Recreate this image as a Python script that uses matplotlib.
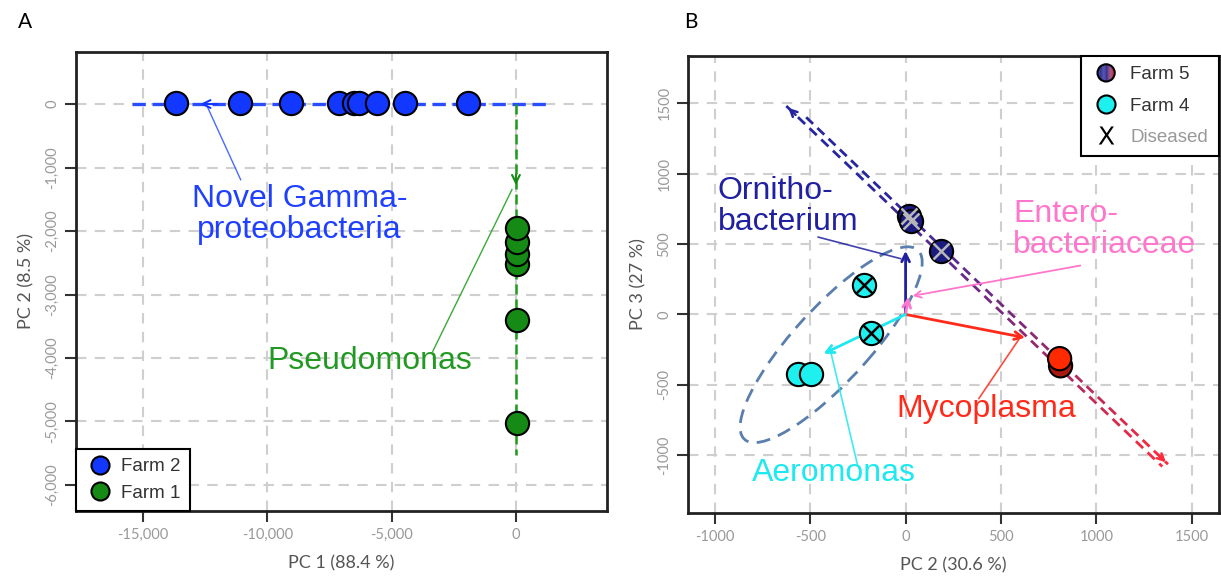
import numpy as np
import matplotlib
matplotlib.use("Agg")
import matplotlib.pyplot as plt
from matplotlib.collections import LineCollection
from matplotlib.colors import LinearSegmentedColormap
from matplotlib.legend_handler import HandlerBase
from matplotlib.lines import Line2D
from matplotlib.patches import Ellipse, Polygon, Circle
from matplotlib.ticker import FuncFormatter

# ---- panel A data (PC1 vs PC2) ----
farm2_pc1 = [-13650, -11080, -9030, -7120, -6500, -6300, -5600, -4460, -1910]
farm2_pc2 = [20, 20, 20, 20, 20, 20, 20, 20, 20]
farm1_pc1 = [30, 30, 30, 30, 30, 30]
farm1_pc2 = [-2520, -2360, -2180, -1950, -3400, -5020]
gamma_axis = [-15420, 1365]          # blue dashed group axis along PC1
gamma_tip = [-12800, 0]              # loading arrow tip
pseudo_axis = [0, -5530]             # green dashed group axis along PC2
pseudo_tip = [0, -1320]

# ---- panel B data (PC2 vs PC3) ----
farm5_blue_x = [20, 28, 186]
farm5_blue_y = [700, 665, 453]
farm5_red_x = [812, 807]
farm5_red_y = [-365, -314]
farm4_x = [-566, -498, -219, -182]
farm4_y = [-426, -426, 207, -131]
diseased_blue = [0, 1, 2]            # index into farm5_blue
diseased_cyan = [2, 3]               # index into farm4
trend1 = [(-625, 1480), (1345, -1080)]
trend2 = [(-521, 1400), (1375, -1064)]
ell_center = (-390, -215)
ell_size = (1628, 440)
ell_angle = 57.3

loadings = {
    "Ornitho-\nbacterium": dict(tip=(0, 451), text=(-984, 764), line=[(-458, 549), (-26, 396)],
                               color="#2020a0", ha="left", head=False),
    "Entero-\nbacteriaceae": dict(tip=(15, 125), text=(563, 604), line=[(916, 347), (37, 132)],
                                  color="#ff77cc", ha="left", head=True),
    "Mycoplasma": dict(tip=(626, -165), text=(421, -674), line=[(384, -597), (595, -174)],
                       color="#ff2a1a", ha="center", head=False),
    "Aeromonas": dict(tip=(-430, -279), text=(-374, -1125), line=[(-253, -1063), (-395, -250)],
                      color="#1ee8f0", ha="center", head=False),
}

LAB_FONT = "Lato"
TXT_FONT = "Liberation Sans"
GRID = dict(color="#cfcfcf", ls=(0, (5, 4)), lw=1.5)


class GradientCircle(HandlerBase):
    def create_artists(self, legend, orig_handle, xdescent, ydescent, width, height, fontsize, trans):
        cx, cy = width / 2 - xdescent, height / 2 - ydescent
        r = 6.2
        cmap = LinearSegmentedColormap.from_list("g", ["#1a1a8c", "#1a1a8c", "#e02030"])
        edges = np.linspace(-r, r, 21)
        arts = []
        for i in range(20):
            xs = np.linspace(edges[i], edges[i + 1], 6)
            top = np.sqrt(np.clip(r ** 2 - xs ** 2, 0, None))
            pts = np.r_[np.c_[xs, top], np.c_[xs[::-1], -top[::-1]]] + [cx, cy]
            arts.append(Polygon(pts, closed=True, fc=cmap(i / 19), ec="none", transform=trans))
        arts.append(Circle((cx, cy), r, fill=False, ec="black", lw=1.5, transform=trans))
        return arts


def gradient_dashes(ax, start, end, cmap, dash=0.019, gap=0.012, lw=2.0):
    start, end = np.array(start, float), np.array(end, float)
    segs, cols = [], []
    for t in np.arange(0, 1, dash + gap):
        t1 = min(t + dash, 1.0)
        segs.append([start + (end - start) * t, start + (end - start) * t1])
        cols.append(cmap((t + t1) / 2))
    ax.add_collection(LineCollection(segs, colors=cols, linewidths=lw, zorder=2))


def style_axes(ax):
    ax.grid(True, **GRID)
    ax.set_axisbelow(True)
    for s in ax.spines.values():
        s.set_linewidth(2)
        s.set_color("#222222")
    ax.tick_params(length=8, width=1.5, color="#333333", labelsize=10.5,
                   labelcolor="#999999", pad=4)
    ax.tick_params(axis="y", labelrotation=90)
    for lab in ax.get_yticklabels() + ax.get_xticklabels():
        lab.set_fontfamily(LAB_FONT)
    for lab in ax.get_yticklabels():
        lab.set_va("center")


fig = plt.figure(figsize=(12.21, 5.84), dpi=100)
axA = fig.add_axes([0.0622, 0.125, 0.4348, 0.786])
axB = fig.add_axes([0.5635, 0.1216, 0.4345, 0.7825])

# ---------- panel A ----------
axA.set_xlim(-17690, 3655)
axA.set_ylim(-6410, 820)
axA.set_xticks([-15000, -10000, -5000, 0])
axA.set_yticks([0, -1000, -2000, -3000, -4000, -5000, -6000])
comma = FuncFormatter(lambda v, p: f"{int(v):,}")
axA.xaxis.set_major_formatter(comma)
axA.yaxis.set_major_formatter(comma)
style_axes(axA)

blue, green = "#1238ff", "#158a15"
axA.plot(gamma_axis, [0, 0], color="#2a4dff", lw=2.4, ls=(0, (4, 2)), zorder=2)
axA.plot([0, 0], pseudo_axis, color="#1c9a1c", lw=1.8, ls=(0, (4, 2)), zorder=2)
axA.annotate("", xy=gamma_tip, xytext=(gamma_tip[0] + 900, 0),
             arrowprops=dict(arrowstyle="->", color=blue, lw=1.5, mutation_scale=14), zorder=3)
axA.annotate("", xy=pseudo_tip, xytext=(0, pseudo_tip[1] + 250),
             arrowprops=dict(arrowstyle="->", color=green, lw=1.5, mutation_scale=14), zorder=3)
axA.scatter(farm2_pc1, farm2_pc2, s=280, c=blue, ec="black", lw=1.5, zorder=4)
axA.scatter(farm1_pc1, farm1_pc2, s=280, c=green, ec="black", lw=1.5, zorder=4)

axA.plot([-12410, -11067], [-40, -1192], color="#4a6aff", lw=1)
axA.text(-8710, -1746, "Novel Gamma-\nproteobacteria", color="#2040ff", fontsize=23,
         family=TXT_FONT, ha="center", va="center", multialignment="center", linespacing=1.05)
axA.plot([-159, -3344], [-1347, -3895], color="#3aaa3a", lw=1)
axA.text(-5892, -4053, "Pseudomonas", color="#229922", fontsize=23, family=TXT_FONT,
         ha="center", va="center")

legA = axA.legend(handles=[
    Line2D([], [], ls="", marker="o", ms=13, mfc=blue, mec="black", mew=1.5, label="Farm 2"),
    Line2D([], [], ls="", marker="o", ms=13, mfc=green, mec="black", mew=1.5, label="Farm 1")],
    loc="lower left", borderaxespad=0, fancybox=False, framealpha=1,
    prop=dict(family=TXT_FONT, size=13.5), handletextpad=0.3, borderpad=0.5, labelspacing=0.5,
    handlelength=1.6)
legA.get_frame().set_edgecolor("black")
legA.get_frame().set_linewidth(1.5)
for t in legA.get_texts():
    t.set_color("#333333")

axA.set_xlabel("PC 1 (88.4 %)", family=LAB_FONT, fontsize=13, color="#555555", labelpad=10)
axA.set_ylabel("PC 2 (8.5 %)", family=LAB_FONT, fontsize=13, color="#555555", labelpad=8)

# ---------- panel B ----------
axB.set_xlim(-1140, 1640)
axB.set_ylim(-1410, 1835)
axB.set_xticks([-1000, -500, 0, 500, 1000, 1500])
axB.set_yticks([-1000, -500, 0, 500, 1000, 1500])
axB.xaxis.set_major_formatter(FuncFormatter(lambda v, p: f"{int(v)}"))
axB.yaxis.set_major_formatter(FuncFormatter(lambda v, p: f"{int(v)}"))
style_axes(axB)

trend_cmap = LinearSegmentedColormap.from_list(
    "trend", ["#2626a0", "#2626a0", "#5a2a90", "#802a78", "#c02a58", "#ff2a3a"])
gradient_dashes(axB, *trend1, trend_cmap)
gradient_dashes(axB, *trend2, trend_cmap)
p0, p1 = np.array(trend1[0], float), np.array(trend1[1], float)
axB.annotate("", xy=p0, xytext=p0 + (p1 - p0) * 0.03,
             arrowprops=dict(arrowstyle="->", color="#2626a0", lw=1.8, mutation_scale=12))
q0, q1 = np.array(trend2[0], float), np.array(trend2[1], float)
axB.annotate("", xy=q1, xytext=q1 + (q0 - q1) * 0.03,
             arrowprops=dict(arrowstyle="->", color="#ff2a3a", lw=1.8, mutation_scale=12))

axB.add_patch(Ellipse(ell_center, *ell_size, angle=ell_angle, fill=False, ec="#5a7fad",
                      lw=2, ls=(0, (5, 3)), zorder=2))

for name, d in loadings.items():
    axB.annotate("", xy=d["tip"], xytext=(0, 0),
                 arrowprops=dict(arrowstyle="->", color=d["color"], lw=2, mutation_scale=14,
                                 shrinkA=0, shrinkB=0), zorder=3)
    (x0, y0), (x1, y1) = d["line"]
    if d["head"]:
        axB.annotate("", xy=(x1, y1), xytext=(x0, y0),
                     arrowprops=dict(arrowstyle="->", color=d["color"], lw=1.3, mutation_scale=12,
                                     shrinkA=0, shrinkB=0))
    else:
        axB.plot([x0, x1], [y0, y1], color=d["color"], lw=1.2, alpha=0.85)
    axB.text(*d["text"], name, color=d["color"], fontsize=23, family=TXT_FONT,
             ha=d["ha"], va="center", linespacing=1.05)

navy, cyan = "#1a1a80", "#1ef0f0"
axB.scatter(farm5_red_x, farm5_red_y, s=280, c=["#a81a10", "#ff2a00"], ec="black", lw=1.5, zorder=4)
axB.scatter(farm5_blue_x, farm5_blue_y, s=280, c=navy, ec="black", lw=1.5, zorder=4)
axB.scatter(farm4_x, farm4_y, s=280, c=cyan, ec="black", lw=1.5, zorder=4)
axB.plot([farm5_blue_x[i] for i in diseased_blue], [farm5_blue_y[i] for i in diseased_blue],
         ls="", marker="x", ms=11, mew=1.8, color="#b8b8b8", zorder=5)
axB.plot([farm4_x[i] for i in diseased_cyan], [farm4_y[i] for i in diseased_cyan],
         ls="", marker="x", ms=11, mew=1.8, color="black", zorder=5)

f5_handle = Line2D([], [], label="Farm 5")
legB = axB.legend(handles=[
    f5_handle,
    Line2D([], [], ls="", marker="o", ms=13, mfc=cyan, mec="black", mew=1.5, label="Farm 4"),
    Line2D([], [], ls="", marker="$\\mathsf{X}$", ms=13, mew=0, color="black", label="Diseased")],
    handler_map={f5_handle: GradientCircle()},
    loc="upper right", borderaxespad=0, fancybox=False, framealpha=1,
    prop=dict(family=TXT_FONT, size=13.5), handletextpad=0.5, borderpad=0.55, labelspacing=0.75,
    handlelength=1.6)
legB.get_frame().set_edgecolor("black")
legB.get_frame().set_linewidth(1.5)
for t, c in zip(legB.get_texts(), ["#333333", "#333333", "#999999"]):
    t.set_color(c)

axB.set_xlabel("PC 2 (30.6 %)", family=LAB_FONT, fontsize=13, color="#555555", labelpad=10)
axB.set_ylabel("PC 3 (27 %)", family=LAB_FONT, fontsize=13, color="#555555", labelpad=8)

fig.text(18 / 1221, 1 - 22 / 584, "A", fontsize=15, family=LAB_FONT, va="center", ha="left")
fig.text(684 / 1221, 1 - 22 / 584, "B", fontsize=15, family=LAB_FONT, va="center", ha="left")

fig.savefig("out.png", dpi=100)
